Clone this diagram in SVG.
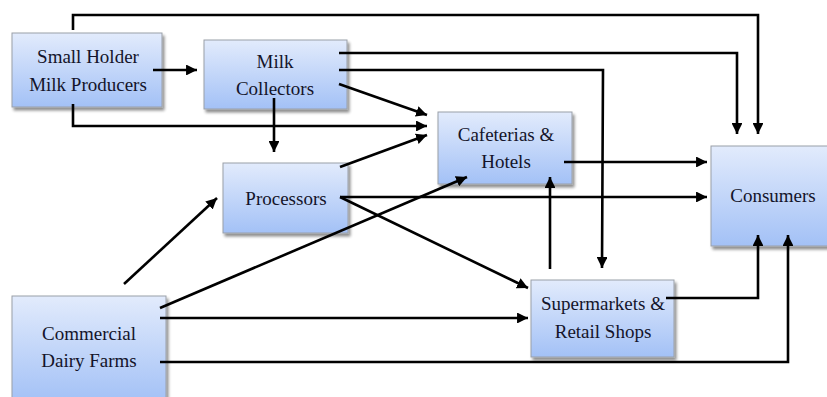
<svg xmlns="http://www.w3.org/2000/svg" width="827" height="397" viewBox="0 0 827 397">
  <defs>
    <linearGradient id="boxFill" x1="0" y1="0" x2="0" y2="1">
      <stop offset="0" stop-color="#e2ebfc"/>
      <stop offset="1" stop-color="#a3c1f6"/>
    </linearGradient>
    <filter id="shadow" x="-10%" y="-10%" width="130%" height="140%">
      <feGaussianBlur in="SourceAlpha" stdDeviation="1.5"/>
      <feOffset dx="2" dy="3" result="b"/>
      <feComponentTransfer><feFuncA type="linear" slope="0.45"/></feComponentTransfer>
      <feMerge><feMergeNode/><feMergeNode in="SourceGraphic"/></feMerge>
    </filter>
    <marker id="arrow" viewBox="0 0 10 10" refX="10" refY="5" markerWidth="4.2" markerHeight="4.2" markerUnits="strokeWidth" orient="auto">
      <path d="M0,0 L10,5 L0,10 z" fill="#000"/>
    </marker>
  </defs>
  <style>
    .box { fill: url(#boxFill); stroke: #9a9fa8; stroke-width: 1; filter: url(#shadow); }
    .label { font-size: 19px; fill: #14142a; text-anchor: middle; }
    .link { fill: none; stroke: #000; stroke-width: 2.6; marker-end: url(#arrow); }
  </style>
  <rect width="827" height="397" fill="#fff"/>

  <g font-family="'Liberation Serif', 'DejaVu Serif', serif">
  <g id="small-holder">
    <rect class="box" x="12" y="33" width="150" height="74"/>
    <text class="label" x="88" y="63">Small Holder</text>
    <text class="label" x="88" y="91">Milk Producers</text>
  </g>
  <g id="milk-collectors">
    <rect class="box" x="204" y="40" width="143" height="69"/>
    <text class="label" x="275" y="68">Milk</text>
    <text class="label" x="275" y="95">Collectors</text>
  </g>
  <g id="processors">
    <rect class="box" x="223" y="163" width="125" height="70"/>
    <text class="label" x="286" y="205">Processors</text>
  </g>
  <g id="cafeterias">
    <rect class="box" x="438" y="112" width="134" height="72"/>
    <text class="label" x="506" y="141">Cafeterias &amp;</text>
    <text class="label" x="506" y="168">Hotels</text>
  </g>
  <g id="consumers">
    <rect class="box" x="711" y="146" width="120" height="100"/>
    <text class="label" x="773" y="202">Consumers</text>
  </g>
  <g id="supermarkets">
    <rect class="box" x="531" y="280" width="143" height="77"/>
    <text class="label" x="603" y="310">Supermarkets &amp;</text>
    <text class="label" x="603" y="338">Retail Shops</text>
  </g>
  <g id="commercial">
    <rect class="box" x="12" y="296" width="154" height="106"/>
    <text class="label" x="89" y="340">Commercial</text>
    <text class="label" x="89" y="367">Dairy Farms</text>
  </g>
  </g>

  <g id="connectors">
    <!-- small holders -->
    <polyline class="link" points="73,30 73,15 758,15 758,134"/>
    <line class="link" x1="153" y1="70" x2="197" y2="70"/>
    <polyline class="link" points="73,104 73,126 427,126"/>
    <!-- milk collectors -->
    <polyline class="link" points="339,53 737,53 737,134"/>
    <polyline class="link" points="339,70 603,70 602,268"/>
    <line class="link" x1="339" y1="84" x2="427" y2="115"/>
    <line class="link" x1="274" y1="98" x2="274" y2="152"/>
    <!-- processors -->
    <line class="link" x1="340" y1="167" x2="427" y2="135"/>
    <line class="link" x1="340" y1="197" x2="707" y2="197"/>
    <line class="link" x1="340" y1="197" x2="528" y2="288"/>
    <!-- cafeterias -->
    <line class="link" x1="564" y1="162" x2="707" y2="162"/>
    <!-- supermarkets -->
    <line class="link" x1="550" y1="269" x2="550" y2="177"/>
    <polyline class="link" points="666,298 758,298 758,235"/>
    <!-- commercial dairy farms -->
    <line class="link" x1="124" y1="284" x2="217" y2="198"/>
    <line class="link" x1="160" y1="308" x2="467" y2="177"/>
    <line class="link" x1="160" y1="318" x2="528" y2="318"/>
    <polyline class="link" points="160,362 788,362 788,235"/>
  </g>
</svg>
